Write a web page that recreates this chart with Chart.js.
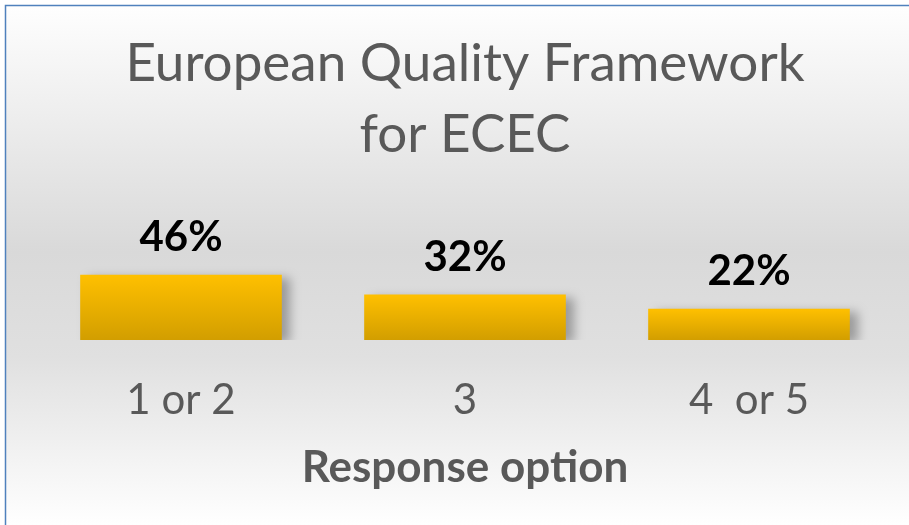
<!DOCTYPE html>
<html>
<head>
<meta charset="utf-8">
<script src="https://cdn.jsdelivr.net/npm/chart.js@4/dist/chart.umd.min.js"></script>
<style>
  html, body { margin: 0; padding: 0; background: #fff; overflow: hidden; }
  #wrap { position: relative; width: 909px; height: 525px; }
</style>
</head>
<body>
<div id="wrap"><canvas id="chart" width="909" height="525"></canvas></div>
<script>
// Chart data
const categories = ['1 or 2', '3', '4  or 5'];
const values = [46, 32, 22];
const titleLines = ['European Quality Framework', 'for ECEC'];
const axisTitle = 'Response option';

const FONT = "Lato, 'Open Sans', sans-serif";
const GREY = '#595959';

// Background gradient + cut-off blue frame
const backgroundPlugin = {
    id: 'bg',
    beforeDraw(chart) {
        const ctx = chart.ctx;
        const h = chart.height, w = chart.width;
        ctx.save();
        const g = ctx.createLinearGradient(0, 0, 0, h);
        g.addColorStop(0, '#ffffff');
        g.addColorStop(0.48, '#d9d9d9');
        g.addColorStop(0.68, '#e0e0e0');
        g.addColorStop(1, '#ffffff');
        ctx.fillStyle = g;
        ctx.fillRect(6, 6, w, h);
        ctx.strokeStyle = '#4f81bd';
        ctx.lineWidth = 1.5;
        ctx.beginPath();
        ctx.moveTo(5.5, h + 2);
        ctx.lineTo(5.5, 5.5);
        ctx.lineTo(w + 2, 5.5);
        ctx.stroke();
        ctx.restore();
    }
};

// Soft shadow behind the bars
const shadowPlugin = {
    id: 'barShadow',
    beforeDatasetsDraw(chart) {
        const ctx = chart.ctx;
        ctx.save();
        ctx.shadowColor = 'rgba(0,0,0,0.3)';
        ctx.shadowBlur = 10;
        ctx.shadowOffsetX = 8;
        ctx.shadowOffsetY = 3;
    },
    afterDatasetsDraw(chart) {
        chart.ctx.restore();
    }
};

// Value labels above bars
const labelPlugin = {
    id: 'valueLabels',
    afterDatasetsDraw(chart) {
        const ctx = chart.ctx;
        const meta = chart.getDatasetMeta(0);
        ctx.save();
        ctx.fillStyle = '#000';
        ctx.font = "bold 42px " + FONT;
        ctx.textAlign = 'center';
        ctx.textBaseline = 'alphabetic';
        meta.data.forEach((bar, i) => {
            ctx.fillText(values[i] + '%', bar.x, bar.y - 24);
        });
        ctx.restore();
    }
};

function barGradient(context) {
    const chart = context.chart;
    const yScale = chart.scales.y;
    if (!chart.chartArea || !yScale || context.dataIndex === undefined) return '#FFC000';
    const top = yScale.getPixelForValue(values[context.dataIndex]);
    const bottom = yScale.getPixelForValue(0);
    if (!isFinite(top) || !isFinite(bottom)) return '#FFC000';
    const g = chart.ctx.createLinearGradient(0, top, 0, bottom);
    g.addColorStop(0, '#FFC000');
    g.addColorStop(1, '#D29E00');
    return g;
}

new Chart(document.getElementById('chart'), {
    type: 'bar',
    data: {
        labels: categories,
        datasets: [{
            data: values,
            backgroundColor: barGradient,
            borderWidth: 0,
            barPercentage: 0.71,
            categoryPercentage: 1
        }]
    },
    options: {
        responsive: false,
        animation: false,
        layout: { padding: { left: 39, right: 18, top: 0, bottom: 0 } },
        plugins: {
            legend: { display: false },
            tooltip: { enabled: false },
            title: {
                display: true,
                text: titleLines,
                color: GREY,
                font: { family: FONT, size: 53, weight: 'normal', lineHeight: 1.34 },
                padding: { top: 28, bottom: 28 }
            }
        },
        scales: {
            x: {
                grid: { display: false, drawTicks: false },
                border: { display: false },
                afterFit(scale) {
                    // keep the plot bottom where the reference has it
                    scale.height = 185;
                },
                ticks: {
                    color: GREY,
                    padding: 35,
                    maxRotation: 0,
                    font: { family: FONT, size: 42, lineHeight: 1.2 }
                },
                title: {
                    display: true,
                    text: axisTitle,
                    color: GREY,
                    font: { family: FONT, size: 44, weight: 'bold', lineHeight: 1.2 },
                    padding: { top: 10, bottom: 31 }
                }
            },
            y: {
                display: false,
                min: 0,
                max: 100
            }
        }
    },
    plugins: [backgroundPlugin, shadowPlugin, labelPlugin]
});
</script>
</body>
</html>
